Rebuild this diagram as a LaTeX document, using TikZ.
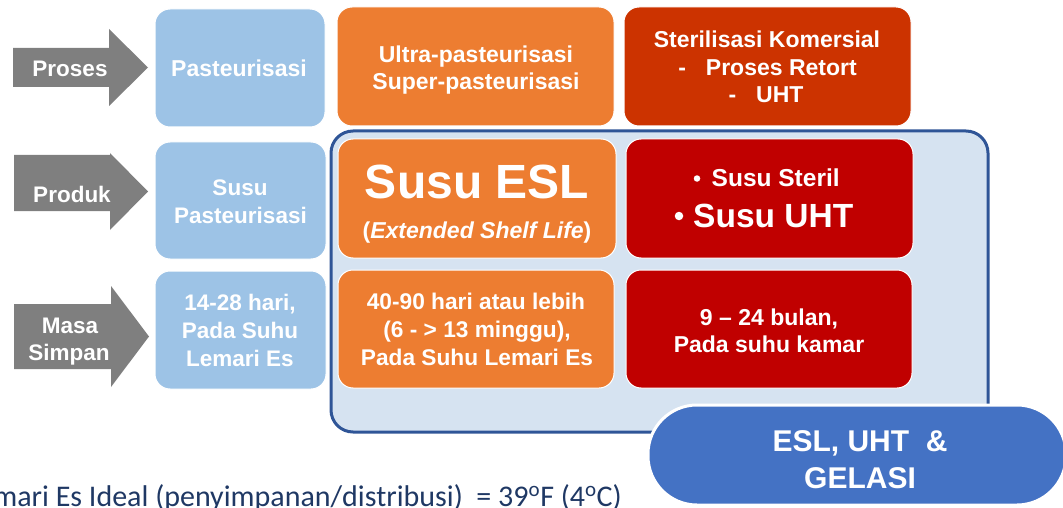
\documentclass[tikz,border=0pt]{standalone}
\usepackage{fontspec}
\setmainfont{Liberation Sans}
\newfontfamily\calibfont{Carlito}
\definecolor{arrgray}{HTML}{7F7F7F}
\definecolor{lblue}{HTML}{9DC3E6}
\definecolor{orng}{HTML}{ED7D31}
\definecolor{rorng}{HTML}{CC3300}
\definecolor{dred}{HTML}{C00000}
\definecolor{cfill}{HTML}{D6E3F1}
\definecolor{cborder}{HTML}{2F5597}
\definecolor{ovalblue}{HTML}{4472C4}
\definecolor{navy}{HTML}{1F3864}
\newcommand\setfs[1]{\fontsize{#1}{1.2\dimexpr#1pt\relax}\selectfont}
\begin{document}
\begin{tikzpicture}[x=1pt,y=-1pt,
  box/.style={draw=white, line width=1pt, rounded corners=15pt, inner sep=0pt},
  wt/.style={text=white, inner sep=0pt, anchor=base, font=\bfseries\setfs{23}},
  bulletdot/.style={circle, fill=white, inner sep=0pt},
  arr/.style={fill=arrgray}]
\useasboundingbox (0,0) rectangle (1063,508);
\clip (0,0) rectangle (1063,508);

% arrows
\fill[arr] (13,48) -- (109,48) -- (109,29) -- (148,67.5) -- (109,106) -- (109,87) -- (13,87) -- cycle;
\fill[arr] (14,155) -- (110,155) -- (110,153) -- (148,191.5) -- (110,230) -- (110,211) -- (14,211) -- cycle;
\fill[arr] (14,304) -- (111,304) -- (111,286) -- (149,336.5) -- (111,387) -- (111,369) -- (14,369) -- cycle;
\node[wt, font=\bfseries\setfs{22.5}] (tproses) at (70,77) {Proses};
\node[wt, font=\bfseries\setfs{22.5}] (tproduk) at (72,202) {Produk};
\node[wt, font=\bfseries\setfs{22.5}] (tmasa) at (70,333) {Masa};
\node[wt, font=\bfseries\setfs{22.5}] (tsimpan) at (69,360) {Simpan};

% container
\node[draw=cborder, fill=cfill, line width=3pt, rounded corners=22pt, minimum width=657pt, minimum height=301pt, inner sep=0pt] (cont) at (659.5,281.5) {};

% row 1
\node[box, fill=lblue, minimum width=170pt, minimum height=118pt] (b11) at (240,68) {};
\node[box, fill=orng, minimum width=277pt, minimum height=119pt] (b12) at (475.5,66.5) {};
\node[box, fill=rorng, minimum width=287pt, minimum height=119pt] (b13) at (767.5,66.5) {};
% row 2
\node[box, fill=lblue, minimum width=171pt, minimum height=117pt] (b21) at (240.5,200.5) {};
\node[box, fill=orng, minimum width=278pt, minimum height=119pt] (b22) at (477,198.5) {};
\node[box, fill=dred, minimum width=287pt, minimum height=119pt] (b23) at (769.5,198.5) {};
% row 3
\node[box, fill=lblue, minimum width=171pt, minimum height=118pt] (b31) at (240.5,330) {};
\node[box, fill=orng, minimum width=276pt, minimum height=118pt] (b32) at (476,329) {};
\node[box, fill=dred, minimum width=286pt, minimum height=118pt] (b33) at (769,329) {};

% texts row 1
\node[wt] (t11) at (239,77) {Pasteurisasi};
\node[wt] (t12a) at (476,63) {Ultra-pasteurisasi};
\node[wt] (t12b) at (476,90) {Super-pasteurisasi};
\node[wt] (t13a) at (767,48) {Sterilisasi Komersial};
\node[wt] (t13b) at (767.5,76) {-\hspace{20pt}Proses Retort};
\node[wt] (t13c) at (766,103) {-\hspace{20pt}UHT};
% texts row 2
\node[wt, font=\bfseries\setfs{22.5}] (t21a) at (240,195) {Susu};
\node[wt, font=\bfseries\setfs{22.5}] (t21b) at (240.5,223) {Pasteurisasi};
\node[wt, font=\bfseries\setfs{48}] (t22a) at (477,198) {Susu ESL};
\node[wt] (t22b) at (477,238) {(\textit{Extended Shelf Life})};
\node[bulletdot, minimum size=6.5pt] (bul1) at (697,178.5) {};
\node[bulletdot, minimum size=8.5pt] (bul2) at (679,216) {};
\node[wt, anchor=base west, font=\bfseries\setfs{24.5}] (t23a) at (711.5,186) {Susu Steril};
\node[wt, anchor=base west, font=\bfseries\setfs{33.5}] (t23b) at (693,227) {Susu UHT};
% texts row 3
\node[wt, font=\bfseries\setfs{22.5}] (t31a) at (240,310) {14-28 hari,};
\node[wt, font=\bfseries\setfs{22.5}] (t31b) at (240,338) {Pada Suhu};
\node[wt, font=\bfseries\setfs{22.5}] (t31c) at (240,366) {Lemari Es};
\node[wt, font=\bfseries\setfs{22.7}] (t32a) at (476,309) {40-90 hari atau lebih};
\node[wt, font=\bfseries\setfs{22.7}] (t32b) at (477,337) {(6 - > 13 minggu),};
\node[wt, font=\bfseries\setfs{22.7}] (t32c) at (477,365) {Pada Suhu Lemari Es};
\node[wt] (t33a) at (769,325) {9 -- 24 bulan,};
\node[wt] (t33b) at (769,352) {Pada suhu kamar};

% oval
\node[draw=white, fill=ovalblue, line width=3pt, rounded corners=49pt, minimum width=418pt, minimum height=100pt, inner sep=0pt] (oval) at (857,455) {};
\node[wt, font=\bfseries\setfs{30}] (to1) at (860,451) {ESL, UHT\ \ \&};
\node[wt, font=\bfseries\setfs{30}] (to2) at (860,488) {GELASI};

% bottom text
\node[text=navy, inner sep=0pt, anchor=base east, font=\calibfont\setfs{30}] (bottom) at (622,506) {Lemari Es Ideal (penyimpanan/distribusi)\ \ = 39\textsuperscript{o}F (4\textsuperscript{o}C)};
\end{tikzpicture}
\end{document}
